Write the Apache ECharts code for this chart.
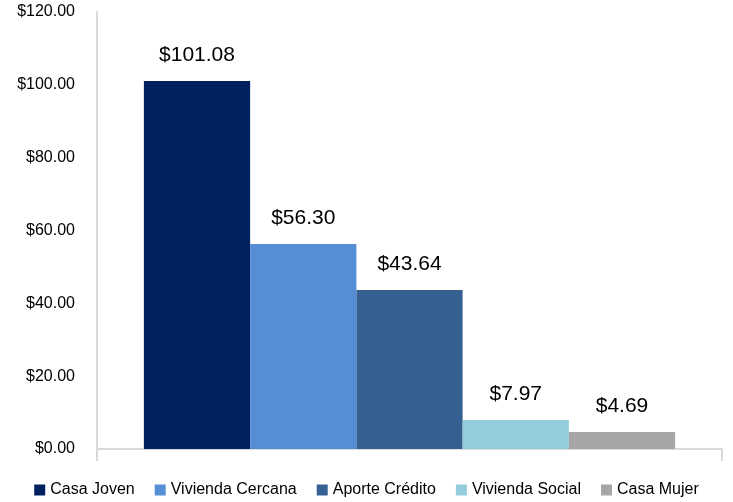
<!DOCTYPE html>
<html>
<head>
<meta charset="utf-8">
<script src="https://cdn.jsdelivr.net/npm/echarts@6/dist/echarts.min.js"></script>
<style>
  html, body { margin: 0; padding: 0; background: #fff; }
  #chart { width: 733px; height: 502px; }
</style>
</head>
<body>
<div id="chart"></div>
<script>
// one category, five programmes side by side
const categories = [''];
const seriesNames = ['Casa Joven', 'Vivienda Cercana', 'Aporte Crédito', 'Vivienda Social', 'Casa Mujer'];
const seriesValues = [101.08, 56.30, 43.64, 7.97, 4.69];
const seriesColors = ['#002060', '#558ED5', '#376092', '#93CDDD', '#A6A6A6'];

const fontFamily = 'Liberation Sans, Arial, sans-serif';

let chart = echarts.init(document.getElementById('chart'), null, {renderer: 'canvas'});

let series = seriesNames.map((name, i) => ({
  name: name,
  type: 'bar',
  data: [seriesValues[i]],
  barGap: '0%',
  barCategoryGap: '15%',
  itemStyle: { color: seriesColors[i] },
  label: {
    show: true,
    position: 'top',
    distance: 15,
    color: '#000',
    fontSize: 21,
    fontFamily: fontFamily,
    formatter: p => '$' + p.value.toFixed(2)
  }
}));

let option = {
  animation: false,
  grid: { left: 97, right: 11, top: 12, bottom: 53 },
  legend: {
    bottom: -1,
    left: 'center',
    itemWidth: 11,
    itemHeight: 11,
    itemGap: 20,
    icon: 'rect',
    textStyle: { fontSize: 16, color: '#000', fontFamily: fontFamily },
    data: seriesNames
  },
  xAxis: {
    type: 'category',
    data: categories,
    axisLine: { lineStyle: { color: '#d9d9d9', width: 2 } },
    axisTick: { show: true, length: 12, lineStyle: { color: '#d9d9d9', width: 2 } },
    axisLabel: { show: false }
  },
  yAxis: {
    type: 'value',
    min: 0,
    max: 120,
    interval: 20,
    axisLine: { show: true, lineStyle: { color: '#d9d9d9', width: 2 } },
    axisTick: { show: false },
    splitLine: { show: false },
    axisLabel: {
      color: '#000',
      fontSize: 16,
      fontFamily: fontFamily,
      margin: 22,
      formatter: v => '$' + v.toFixed(2)
    }
  },
  series: series
};

chart.setOption(option);
</script>
</body>
</html>
